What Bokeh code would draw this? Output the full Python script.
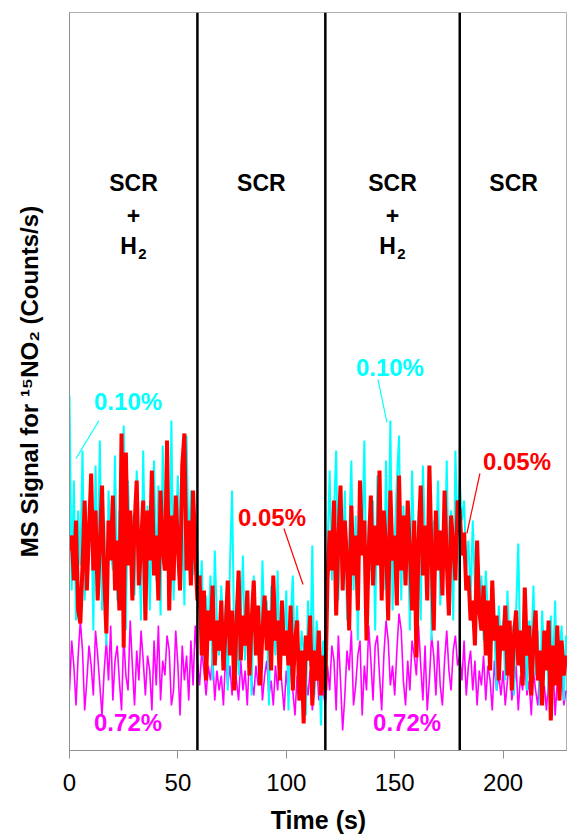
from bokeh.plotting import figure
from bokeh.models import Range1d, FixedTicker, ColumnDataSource
from bokeh.core.properties import value
from bokeh.embed import file_html
from bokeh.resources import INLINE

# ---------------- data ----------------
# red: 0.05% H2
red = [200,215,170,230,140,127,185,250,160,220,
       277,180,240,150,205,265,175,117,230,190,
       255,160,210,140,317,103,298,185,240,150,
       225,270,165,205,250,130,240,190,280,175,
       215,150,260,200,180,310,140,235,170,255,
       205,160,285,317,180,230,165,260,200,
       150,
       175,95,160,70,140,110,165,85,130,100,
       150,80,120,170,95,140,60,125,180,90,
       135,105,160,75,130,170,95,145,65,120,
       155,100,140,80,175,110,130,70,150,95,
       120,85,145,60,110,130,50,100,27,115,
       90,135,45,100,70,120,55,95,
       60,170,
       220,180,250,135,210,265,160,230,190,120,
       245,175,215,140,270,195,230,110,200,255,
       165,225,185,280,150,240,205,130,260,190,
       215,145,275,180,235,165,250,200,140,230,
       93,210,265,175,225,150,285,195,120,240,
       180,220,155,260,190,135,235,205,170,250,
       240,195,218,160,175,130,150,105,210,140,
       120,165,95,150,80,170,110,135,70,125,
       100,145,75,130,60,115,140,85,120,65,
       163,95,125,55,110,140,70,100,45,120,
       80,130,30,105,65,125,50,110,75,95]

# cyan: 0.10% H2
cyan = [355,160,270,130,240,185,300,150,225,195,
        250,120,285,175,310,140,230,105,260,200,
        180,295,150,240,205,325,120,270,190,235,
        155,280,210,130,300,175,245,140,225,290,
        170,265,135,305,195,240,160,330,150,220,
        275,180,240,145,315,200,260,175,230,
        200,
        140,190,90,155,110,175,70,200,130,95,
        165,115,145,60,185,260,100,150,75,135,
        195,90,160,120,55,175,105,140,85,190,
        115,150,45,165,125,95,180,70,140,110,
        160,40,130,175,85,145,60,120,100,35,
        150,85,205,55,130,95,25,110,
        90,200,
        280,170,240,300,150,225,190,260,130,215,
        290,160,235,110,265,200,310,145,230,180,
        250,120,275,195,235,160,290,175,330,140,
        210,270,315,150,245,190,225,120,280,200,
        165,240,130,285,210,175,255,110,230,195,
        270,145,220,185,290,160,240,130,300,215,
        270,230,250,180,210,150,230,165,195,130,
        175,110,180,135,90,155,120,60,145,100,
        130,70,160,95,125,55,140,207,85,115,
        150,60,130,100,165,75,120,45,140,90,
        110,55,135,80,150,65,100,125,50,115]

# magenta: 0.72% H2
magenta = [60,110,85,45,95,130,100,40,70,105,
           85,55,120,95,65,35,80,110,70,125,
           50,90,105,70,40,115,75,60,130,85,
           45,100,70,120,90,55,95,80,40,110,
           65,125,50,90,75,115,100,45,60,120,
           85,35,105,70,95,50,110,65,125,
           90,
           65,100,80,55,85,70,95,50,80,60,
           75,45,95,65,85,55,100,70,50,90,
           60,80,45,95,70,55,85,65,100,50,
           75,90,55,70,45,85,60,95,65,40,
           80,55,90,60,35,75,50,85,45,70,
           55,80,40,65,90,50,70,60,
           45,85,
           60,105,90,40,115,70,20,55,100,80,
           120,45,65,95,110,35,85,60,125,90,
           50,105,115,75,40,95,130,110,65,85,
           55,100,137,120,70,45,90,60,110,95,
           75,125,85,50,105,40,70,115,95,55,
           110,65,45,90,120,80,60,100,115,85,
           95,70,110,55,85,100,60,90,45,80,
           65,95,50,85,70,40,90,60,75,55,
           80,45,70,95,50,65,85,40,75,60,
           90,55,70,35,80,60,45,85,50,65,
           40,75,55,90,35,70,50,80,45,60]

n = min(len(red), len(cyan), len(magenta))
time_s = list(range(n))

boundaries = [59, 118, 180]          # gas switching times (s)
region_edges = [0, 59, 118, 180, 229.7]
region_names = ["SCR", "SCR", "SCR", "SCR"]
region_h2 = [True, False, True, False]
x_ticks = [0, 50, 100, 150, 200]

# series labels: text, x, y, colour
labels_text = ["0.10%", "0.72%", "0.10%", "0.72%", "0.05%", "0.05%"]
labels_x = [27, 27, 147.8, 155.7, 93.4, 206.4]
labels_y = [349, 28, 383, 28, 233, 289]
labels_color = ["#00FFFF", "#FF00FF", "#00FFFF", "#FF00FF", "#FF0000", "#FF0000"]

# leader lines
lead_x0 = [13.6, 142.3, 98.9, 189.3]
lead_y0 = [330, 371, 222, 277]
lead_x1 = [3.0, 146.4, 107.7, 183.3]
lead_y1 = [292, 328, 166, 217]
lead_color = ["#00FFFF", "#00FFFF", "#FF0000", "#FF0000"]

Y_TOP = 738
FONT = value("Liberation Sans")

# ---------------- figure ----------------
p = figure(width=567, height=836, output_backend="svg", toolbar_location=None,
           x_range=Range1d(0, 229.7), y_range=Range1d(0, Y_TOP),
           min_border_left=69, min_border_right=0, min_border_top=12,
           min_border_bottom=86)
p.background_fill_color = "white"
p.border_fill_color = "white"
p.outline_line_color = "#b0b0b0"
p.outline_line_width = 1
p.grid.visible = False

# series
p.line(time_s, magenta[:n], line_color="#FF00FF", line_width=1.6)
p.line(time_s, cyan[:n], line_color="#00FFFF", line_width=2)
p.line(time_s, red[:n], line_color="#FF0000", line_width=4)

# switching lines
p.segment(x0=boundaries, y0=[0]*len(boundaries), x1=boundaries,
          y1=[Y_TOP]*len(boundaries), line_color="black", line_width=2.5)

# region labels
cx = [(region_edges[i] + region_edges[i+1]) / 2 for i in range(len(region_names))]
p.text(x=cx, y=[568]*len(cx), text=region_names, text_font=FONT,
       text_font_style="bold", text_font_size="23px", text_align="center",
       text_baseline="middle", text_color="black")
h2x = [c for c, h in zip(cx, region_h2) if h]
p.text(x=h2x, y=[535]*len(h2x), text=["+"]*len(h2x), text_font=FONT,
       text_font_style="bold", text_font_size="23px", text_align="center",
       text_baseline="middle", text_color="black")
p.text(x=h2x, y=[505]*len(h2x), text=["H"]*len(h2x), text_font=FONT,
       text_font_style="bold", text_font_size="23px", text_align="center",
       text_baseline="middle", text_color="black", x_offset=-5)
p.text(x=h2x, y=[505]*len(h2x), text=["2"]*len(h2x), text_font=FONT,
       text_font_style="bold", text_font_size="15px", text_align="center",
       text_baseline="middle", text_color="black", x_offset=9, y_offset=8)

# leader lines and series labels
p.segment(x0=lead_x0, y0=lead_y0, x1=lead_x1, y1=lead_y1,
          line_color=lead_color, line_width=1.2)
src = ColumnDataSource(dict(x=labels_x, y=labels_y, t=labels_text, c=labels_color))
p.text(x="x", y="y", text="t", text_color="c", source=src, text_font=FONT,
       text_font_style="bold", text_font_size="24px", text_align="center",
       text_baseline="middle")

# axes
p.xaxis.ticker = FixedTicker(ticks=x_ticks)
p.xaxis.minor_tick_line_color = None
p.xaxis.major_tick_out = 8
p.xaxis.major_tick_in = 0
p.xaxis.major_tick_line_color = "#909090"
p.xaxis.axis_line_color = "#909090"
p.xaxis.major_label_text_font = "Liberation Sans"
p.xaxis.major_label_text_font_size = "24px"
p.xaxis.major_label_text_color = "black"
p.xaxis.major_label_standoff = 15
p.xaxis.axis_label = "Time (s)"
p.xaxis.axis_label_text_font = "Liberation Sans"
p.xaxis.axis_label_text_font_style = "bold"
p.xaxis.axis_label_text_font_size = "25px"
p.xaxis.axis_label_text_color = "black"
p.xaxis.axis_label_standoff = 12

p.yaxis.ticker = FixedTicker(ticks=[])
p.yaxis.minor_tick_line_color = None
p.yaxis.major_tick_line_color = None
p.yaxis.axis_line_color = "#909090"
p.yaxis.axis_label = "MS Signal for \u00b9\u2075NO\u2082 (Counts/s)"
p.yaxis.axis_label_text_font = "Liberation Sans"
p.yaxis.axis_label_text_font_style = "bold"
p.yaxis.axis_label_text_font_size = "24px"
p.yaxis.axis_label_text_color = "black"
p.yaxis.axis_label_standoff = 27

open("out.html", "w").write(file_html(p, INLINE))
